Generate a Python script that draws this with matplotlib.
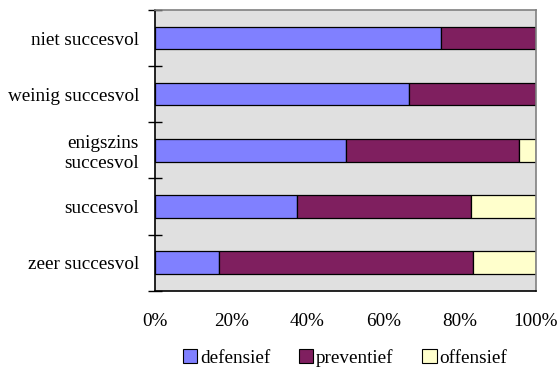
import numpy as np
import matplotlib.pyplot as plt
from matplotlib.patches import Patch

# Share of each strategy per success category (percent), top to bottom
categories = ['niet succesvol', 'weinig succesvol', 'enigszins\nsuccesvol',
              'succesvol', 'zeer succesvol']
defensief = [75.0, 66.7, 50.0, 37.2, 16.7]
preventief = [25.0, 33.3, 45.5, 45.7, 66.7]
offensief = [0.0, 0.0, 4.5, 17.1, 16.6]

series = ['defensief', 'preventief', 'offensief']
colors = ['#8080FF', '#7F1F5F', '#FFFFCC']

plt.rcParams['font.family'] = ['Liberation Serif', 'DejaVu Serif']
plt.rcParams['font.size'] = 13.8

fig = plt.figure(figsize=(5.6, 3.7), dpi=100)
ax = fig.add_axes([155 / 560, 1 - 290.7 / 370, 381 / 560, 280.7 / 370])
ax.set_facecolor('#E0E0E0')

y = np.arange(len(categories))
left = np.zeros(len(categories))
for name, vals, col in zip(series, [defensief, preventief, offensief], colors):
    vals = np.array(vals)
    ax.barh(y, vals, left=left, height=0.4, color=col,
            edgecolor='black', linewidth=0.9, label=name)
    left += vals

ax.set_xlim(0, 100)
ax.set_ylim(len(categories) - 0.5, -0.5)

ax.set_xticks(np.arange(0, 101, 20))
ax.set_xticklabels(['%d%%' % v for v in range(0, 101, 20)])
ax.set_yticks(y)
ax.set_yticklabels(categories, multialignment='right')
ax.tick_params(axis='y', length=0, pad=11.5)
ax.tick_params(axis='x', length=0, pad=16)

# crossing tick marks on the category boundaries and percentage steps
ax.set_yticks(np.arange(-0.5, len(categories)), minor=True)
ax.set_xticks(np.arange(0, 101, 20), minor=True)
ax.tick_params(which='minor', direction='inout', length=9.5, width=1,
               color='black')

for side in ['left', 'bottom']:
    ax.spines[side].set_color('black')
    ax.spines[side].set_linewidth(1.2)
for side in ['top', 'right']:
    ax.spines[side].set_color('#808080')
    ax.spines[side].set_linewidth(1.2)

handles = [Patch(facecolor=c, edgecolor='black', linewidth=0.8, label=s)
           for s, c in zip(series, colors)]
fig.legend(handles=handles, loc='center', bbox_to_anchor=(345 / 560, 1 - 358 / 370),
           ncol=3, frameon=False, handlelength=0.75, handleheight=0.75,
           handletextpad=0.15, columnspacing=1.5, fontsize=13.8)

fig.savefig('out.png', dpi=100)
